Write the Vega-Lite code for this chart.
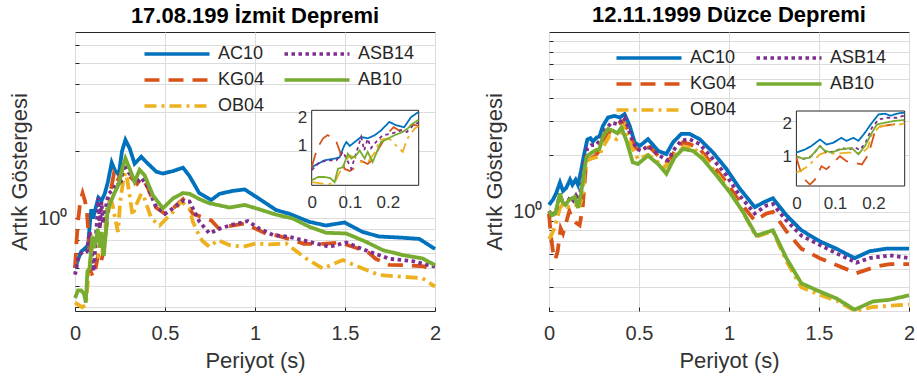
{
"$schema": "https://vega.github.io/schema/vega-lite/v6.json",
"padding": {"left": 8, "top": 3, "right": 5, "bottom": 5},
"datasets": {"d": [
{"p":"L","s":"AC10","t":0,"v":0.6},{"p":"L","s":"AC10","t":0.017,"v":0.655},{"p":"L","s":"AC10","t":0.034,"v":0.71},{"p":"L","s":"AC10","t":0.06,"v":0.74},{"p":"L","s":"AC10","t":0.073,"v":0.76},{"p":"L","s":"AC10","t":0.085,"v":1.0},{"p":"L","s":"AC10","t":0.091,"v":1.1},{"p":"L","s":"AC10","t":0.1,"v":1.0},{"p":"L","s":"AC10","t":0.113,"v":1.1},{"p":"L","s":"AC10","t":0.13,"v":1.24},{"p":"L","s":"AC10","t":0.147,"v":1.2},{"p":"L","s":"AC10","t":0.165,"v":1.29},{"p":"L","s":"AC10","t":0.182,"v":1.45},{"p":"L","s":"AC10","t":0.204,"v":1.78},{"p":"L","s":"AC10","t":0.222,"v":1.64},{"p":"L","s":"AC10","t":0.243,"v":1.57},{"p":"L","s":"AC10","t":0.261,"v":2.0},{"p":"L","s":"AC10","t":0.28,"v":2.25},{"p":"L","s":"AC10","t":0.304,"v":2.06},{"p":"L","s":"AC10","t":0.331,"v":1.76},{"p":"L","s":"AC10","t":0.368,"v":1.89},{"p":"L","s":"AC10","t":0.396,"v":1.79},{"p":"L","s":"AC10","t":0.452,"v":1.62},{"p":"L","s":"AC10","t":0.488,"v":1.59},{"p":"L","s":"AC10","t":0.544,"v":1.63},{"p":"L","s":"AC10","t":0.6,"v":1.69},{"p":"L","s":"AC10","t":0.636,"v":1.55},{"p":"L","s":"AC10","t":0.69,"v":1.3},{"p":"L","s":"AC10","t":0.757,"v":1.21},{"p":"L","s":"AC10","t":0.803,"v":1.29},{"p":"L","s":"AC10","t":0.877,"v":1.33},{"p":"L","s":"AC10","t":0.942,"v":1.35},{"p":"L","s":"AC10","t":1.007,"v":1.25},{"p":"L","s":"AC10","t":1.118,"v":1.09},{"p":"L","s":"AC10","t":1.191,"v":1.05},{"p":"L","s":"AC10","t":1.302,"v":0.966},{"p":"L","s":"AC10","t":1.395,"v":0.93},{"p":"L","s":"AC10","t":1.497,"v":0.96},{"p":"L","s":"AC10","t":1.598,"v":0.87},{"p":"L","s":"AC10","t":1.691,"v":0.83},{"p":"L","s":"AC10","t":1.82,"v":0.82},{"p":"L","s":"AC10","t":1.913,"v":0.81},{"p":"L","s":"AC10","t":2.0,"v":0.73},
{"p":"L","s":"KG04","t":0,"v":0.6},{"p":"L","s":"KG04","t":0.009,"v":0.8},{"p":"L","s":"KG04","t":0.017,"v":0.98},{"p":"L","s":"KG04","t":0.03,"v":1.2},{"p":"L","s":"KG04","t":0.042,"v":1.3},{"p":"L","s":"KG04","t":0.055,"v":1.2},{"p":"L","s":"KG04","t":0.065,"v":1.1},{"p":"L","s":"KG04","t":0.073,"v":0.9},{"p":"L","s":"KG04","t":0.08,"v":0.74},{"p":"L","s":"KG04","t":0.086,"v":0.58},{"p":"L","s":"KG04","t":0.1,"v":0.55},{"p":"L","s":"KG04","t":0.115,"v":0.6},{"p":"L","s":"KG04","t":0.13,"v":0.7},{"p":"L","s":"KG04","t":0.147,"v":0.65},{"p":"L","s":"KG04","t":0.16,"v":0.72},{"p":"L","s":"KG04","t":0.18,"v":1.0},{"p":"L","s":"KG04","t":0.2,"v":1.35},{"p":"L","s":"KG04","t":0.215,"v":1.57},{"p":"L","s":"KG04","t":0.23,"v":1.45},{"p":"L","s":"KG04","t":0.25,"v":1.55},{"p":"L","s":"KG04","t":0.265,"v":1.67},{"p":"L","s":"KG04","t":0.28,"v":1.62},{"p":"L","s":"KG04","t":0.32,"v":1.5},{"p":"L","s":"KG04","t":0.345,"v":1.43},{"p":"L","s":"KG04","t":0.37,"v":1.52},{"p":"L","s":"KG04","t":0.4,"v":1.4},{"p":"L","s":"KG04","t":0.45,"v":1.12},{"p":"L","s":"KG04","t":0.5,"v":1.05},{"p":"L","s":"KG04","t":0.55,"v":1.12},{"p":"L","s":"KG04","t":0.6,"v":1.22},{"p":"L","s":"KG04","t":0.655,"v":1.05},{"p":"L","s":"KG04","t":0.757,"v":0.98},{"p":"L","s":"KG04","t":0.8,"v":0.9},{"p":"L","s":"KG04","t":0.84,"v":0.92},{"p":"L","s":"KG04","t":0.94,"v":0.95},{"p":"L","s":"KG04","t":1.06,"v":0.857},{"p":"L","s":"KG04","t":1.12,"v":0.84},{"p":"L","s":"KG04","t":1.21,"v":0.8},{"p":"L","s":"KG04","t":1.27,"v":0.77},{"p":"L","s":"KG04","t":1.38,"v":0.77},{"p":"L","s":"KG04","t":1.47,"v":0.78},{"p":"L","s":"KG04","t":1.56,"v":0.74},{"p":"L","s":"KG04","t":1.635,"v":0.7},{"p":"L","s":"KG04","t":1.67,"v":0.66},{"p":"L","s":"KG04","t":1.746,"v":0.62},{"p":"L","s":"KG04","t":1.839,"v":0.618},{"p":"L","s":"KG04","t":1.94,"v":0.61},{"p":"L","s":"KG04","t":2.0,"v":0.58},
{"p":"L","s":"OB04","t":0,"v":0.42},{"p":"L","s":"OB04","t":0.02,"v":0.41},{"p":"L","s":"OB04","t":0.04,"v":0.4},{"p":"L","s":"OB04","t":0.06,"v":0.41},{"p":"L","s":"OB04","t":0.07,"v":0.5},{"p":"L","s":"OB04","t":0.08,"v":0.6},{"p":"L","s":"OB04","t":0.09,"v":0.7},{"p":"L","s":"OB04","t":0.1,"v":0.8},{"p":"L","s":"OB04","t":0.115,"v":0.75},{"p":"L","s":"OB04","t":0.13,"v":0.68},{"p":"L","s":"OB04","t":0.15,"v":0.7},{"p":"L","s":"OB04","t":0.165,"v":0.85},{"p":"L","s":"OB04","t":0.18,"v":1.16},{"p":"L","s":"OB04","t":0.2,"v":1.2},{"p":"L","s":"OB04","t":0.209,"v":1.15},{"p":"L","s":"OB04","t":0.225,"v":0.98},{"p":"L","s":"OB04","t":0.239,"v":0.87},{"p":"L","s":"OB04","t":0.251,"v":1.19},{"p":"L","s":"OB04","t":0.27,"v":1.51},{"p":"L","s":"OB04","t":0.28,"v":1.6},{"p":"L","s":"OB04","t":0.29,"v":1.5},{"p":"L","s":"OB04","t":0.32,"v":1.03},{"p":"L","s":"OB04","t":0.34,"v":1.15},{"p":"L","s":"OB04","t":0.368,"v":1.29},{"p":"L","s":"OB04","t":0.38,"v":1.27},{"p":"L","s":"OB04","t":0.424,"v":1.0},{"p":"L","s":"OB04","t":0.47,"v":0.93},{"p":"L","s":"OB04","t":0.544,"v":1.07},{"p":"L","s":"OB04","t":0.59,"v":1.19},{"p":"L","s":"OB04","t":0.636,"v":1.11},{"p":"L","s":"OB04","t":0.655,"v":0.966},{"p":"L","s":"OB04","t":0.692,"v":0.83},{"p":"L","s":"OB04","t":0.71,"v":0.79},{"p":"L","s":"OB04","t":0.747,"v":0.747},{"p":"L","s":"OB04","t":0.794,"v":0.8},{"p":"L","s":"OB04","t":0.858,"v":0.76},{"p":"L","s":"OB04","t":0.932,"v":0.747},{"p":"L","s":"OB04","t":1.007,"v":0.773},{"p":"L","s":"OB04","t":1.08,"v":0.765},{"p":"L","s":"OB04","t":1.173,"v":0.773},{"p":"L","s":"OB04","t":1.284,"v":0.662},{"p":"L","s":"OB04","t":1.376,"v":0.597},{"p":"L","s":"OB04","t":1.487,"v":0.651},{"p":"L","s":"OB04","t":1.598,"v":0.597},{"p":"L","s":"OB04","t":1.691,"v":0.558},{"p":"L","s":"OB04","t":1.82,"v":0.548},{"p":"L","s":"OB04","t":1.93,"v":0.54},{"p":"L","s":"OB04","t":2.0,"v":0.495},
{"p":"L","s":"ASB14","t":0,"v":0.56},{"p":"L","s":"ASB14","t":0.021,"v":0.68},{"p":"L","s":"ASB14","t":0.043,"v":0.71},{"p":"L","s":"ASB14","t":0.065,"v":0.71},{"p":"L","s":"ASB14","t":0.082,"v":0.87},{"p":"L","s":"ASB14","t":0.091,"v":0.74},{"p":"L","s":"ASB14","t":0.104,"v":0.58},{"p":"L","s":"ASB14","t":0.115,"v":0.8},{"p":"L","s":"ASB14","t":0.13,"v":1.24},{"p":"L","s":"ASB14","t":0.138,"v":0.9},{"p":"L","s":"ASB14","t":0.147,"v":1.19},{"p":"L","s":"ASB14","t":0.156,"v":0.95},{"p":"L","s":"ASB14","t":0.165,"v":1.06},{"p":"L","s":"ASB14","t":0.186,"v":1.29},{"p":"L","s":"ASB14","t":0.209,"v":1.34},{"p":"L","s":"ASB14","t":0.235,"v":1.45},{"p":"L","s":"ASB14","t":0.25,"v":1.4},{"p":"L","s":"ASB14","t":0.265,"v":1.62},{"p":"L","s":"ASB14","t":0.28,"v":1.75},{"p":"L","s":"ASB14","t":0.3,"v":1.6},{"p":"L","s":"ASB14","t":0.34,"v":1.45},{"p":"L","s":"ASB14","t":0.37,"v":1.52},{"p":"L","s":"ASB14","t":0.4,"v":1.4},{"p":"L","s":"ASB14","t":0.45,"v":1.13},{"p":"L","s":"ASB14","t":0.5,"v":1.05},{"p":"L","s":"ASB14","t":0.55,"v":1.12},{"p":"L","s":"ASB14","t":0.6,"v":1.2},{"p":"L","s":"ASB14","t":0.636,"v":1.19},{"p":"L","s":"ASB14","t":0.692,"v":0.966},{"p":"L","s":"ASB14","t":0.747,"v":0.857},{"p":"L","s":"ASB14","t":0.803,"v":0.9},{"p":"L","s":"ASB14","t":0.877,"v":0.94},{"p":"L","s":"ASB14","t":0.96,"v":0.973},{"p":"L","s":"ASB14","t":1.025,"v":0.9},{"p":"L","s":"ASB14","t":1.1,"v":0.843},{"p":"L","s":"ASB14","t":1.19,"v":0.828},{"p":"L","s":"ASB14","t":1.302,"v":0.786},{"p":"L","s":"ASB14","t":1.413,"v":0.747},{"p":"L","s":"ASB14","t":1.506,"v":0.78},{"p":"L","s":"ASB14","t":1.635,"v":0.71},{"p":"L","s":"ASB14","t":1.746,"v":0.66},{"p":"L","s":"ASB14","t":1.876,"v":0.644},{"p":"L","s":"ASB14","t":2.0,"v":0.608},
{"p":"L","s":"AB10","t":0,"v":0.44},{"p":"L","s":"AB10","t":0.017,"v":0.476},{"p":"L","s":"AB10","t":0.034,"v":0.476},{"p":"L","s":"AB10","t":0.05,"v":0.46},{"p":"L","s":"AB10","t":0.06,"v":0.42},{"p":"L","s":"AB10","t":0.069,"v":0.58},{"p":"L","s":"AB10","t":0.082,"v":0.6},{"p":"L","s":"AB10","t":0.095,"v":0.83},{"p":"L","s":"AB10","t":0.104,"v":0.74},{"p":"L","s":"AB10","t":0.117,"v":0.8},{"p":"L","s":"AB10","t":0.126,"v":0.9},{"p":"L","s":"AB10","t":0.139,"v":0.74},{"p":"L","s":"AB10","t":0.147,"v":0.87},{"p":"L","s":"AB10","t":0.16,"v":0.68},{"p":"L","s":"AB10","t":0.182,"v":1.1},{"p":"L","s":"AB10","t":0.2,"v":1.19},{"p":"L","s":"AB10","t":0.217,"v":1.29},{"p":"L","s":"AB10","t":0.239,"v":1.4},{"p":"L","s":"AB10","t":0.252,"v":1.52},{"p":"L","s":"AB10","t":0.265,"v":1.7},{"p":"L","s":"AB10","t":0.28,"v":1.86},{"p":"L","s":"AB10","t":0.304,"v":1.67},{"p":"L","s":"AB10","t":0.331,"v":1.46},{"p":"L","s":"AB10","t":0.359,"v":1.65},{"p":"L","s":"AB10","t":0.387,"v":1.56},{"p":"L","s":"AB10","t":0.433,"v":1.27},{"p":"L","s":"AB10","t":0.488,"v":1.11},{"p":"L","s":"AB10","t":0.544,"v":1.23},{"p":"L","s":"AB10","t":0.6,"v":1.3},{"p":"L","s":"AB10","t":0.636,"v":1.29},{"p":"L","s":"AB10","t":0.692,"v":1.22},{"p":"L","s":"AB10","t":0.747,"v":1.17},{"p":"L","s":"AB10","t":0.858,"v":1.12},{"p":"L","s":"AB10","t":0.942,"v":1.15},{"p":"L","s":"AB10","t":1.007,"v":1.11},{"p":"L","s":"AB10","t":1.118,"v":1.04},{"p":"L","s":"AB10","t":1.21,"v":1.0},{"p":"L","s":"AB10","t":1.302,"v":0.918},{"p":"L","s":"AB10","t":1.395,"v":0.863},{"p":"L","s":"AB10","t":1.506,"v":0.857},{"p":"L","s":"AB10","t":1.617,"v":0.786},{"p":"L","s":"AB10","t":1.709,"v":0.722},{"p":"L","s":"AB10","t":1.82,"v":0.686},{"p":"L","s":"AB10","t":1.931,"v":0.662},{"p":"L","s":"AB10","t":2.0,"v":0.618},
{"p":"R","s":"AC10","t":0,"v":1.09},{"p":"R","s":"AC10","t":0.022,"v":1.16},{"p":"R","s":"AC10","t":0.039,"v":1.25},{"p":"R","s":"AC10","t":0.061,"v":1.43},{"p":"R","s":"AC10","t":0.078,"v":1.29},{"p":"R","s":"AC10","t":0.096,"v":1.34},{"p":"R","s":"AC10","t":0.117,"v":1.48},{"p":"R","s":"AC10","t":0.13,"v":1.39},{"p":"R","s":"AC10","t":0.148,"v":1.48},{"p":"R","s":"AC10","t":0.161,"v":1.39},{"p":"R","s":"AC10","t":0.178,"v":1.65},{"p":"R","s":"AC10","t":0.196,"v":2.03},{"p":"R","s":"AC10","t":0.213,"v":2.41},{"p":"R","s":"AC10","t":0.23,"v":2.45},{"p":"R","s":"AC10","t":0.244,"v":2.35},{"p":"R","s":"AC10","t":0.265,"v":2.47},{"p":"R","s":"AC10","t":0.28,"v":2.5},{"p":"R","s":"AC10","t":0.3,"v":2.85},{"p":"R","s":"AC10","t":0.328,"v":3.15},{"p":"R","s":"AC10","t":0.365,"v":3.21},{"p":"R","s":"AC10","t":0.393,"v":3.15},{"p":"R","s":"AC10","t":0.42,"v":3.28},{"p":"R","s":"AC10","t":0.448,"v":2.85},{"p":"R","s":"AC10","t":0.476,"v":2.33},{"p":"R","s":"AC10","t":0.504,"v":2.23},{"p":"R","s":"AC10","t":0.55,"v":2.42},{"p":"R","s":"AC10","t":0.606,"v":2.1},{"p":"R","s":"AC10","t":0.652,"v":2.02},{"p":"R","s":"AC10","t":0.689,"v":2.33},{"p":"R","s":"AC10","t":0.735,"v":2.58},{"p":"R","s":"AC10","t":0.781,"v":2.58},{"p":"R","s":"AC10","t":0.837,"v":2.42},{"p":"R","s":"AC10","t":0.911,"v":2.06},{"p":"R","s":"AC10","t":0.985,"v":1.69},{"p":"R","s":"AC10","t":1.059,"v":1.33},{"p":"R","s":"AC10","t":1.143,"v":1.06},{"p":"R","s":"AC10","t":1.198,"v":1.13},{"p":"R","s":"AC10","t":1.244,"v":1.18},{"p":"R","s":"AC10","t":1.319,"v":0.96},{"p":"R","s":"AC10","t":1.402,"v":0.8},{"p":"R","s":"AC10","t":1.504,"v":0.7},{"p":"R","s":"AC10","t":1.596,"v":0.64},{"p":"R","s":"AC10","t":1.698,"v":0.57},{"p":"R","s":"AC10","t":1.781,"v":0.62},{"p":"R","s":"AC10","t":1.874,"v":0.64},{"p":"R","s":"AC10","t":2.0,"v":0.64},
{"p":"R","s":"KG04","t":0,"v":0.98},{"p":"R","s":"KG04","t":0.009,"v":0.77},{"p":"R","s":"KG04","t":0.022,"v":0.62},{"p":"R","s":"KG04","t":0.035,"v":0.56},{"p":"R","s":"KG04","t":0.048,"v":0.62},{"p":"R","s":"KG04","t":0.065,"v":0.82},{"p":"R","s":"KG04","t":0.078,"v":0.77},{"p":"R","s":"KG04","t":0.091,"v":0.85},{"p":"R","s":"KG04","t":0.113,"v":1.01},{"p":"R","s":"KG04","t":0.13,"v":0.91},{"p":"R","s":"KG04","t":0.148,"v":0.88},{"p":"R","s":"KG04","t":0.17,"v":0.85},{"p":"R","s":"KG04","t":0.187,"v":1.05},{"p":"R","s":"KG04","t":0.204,"v":1.7},{"p":"R","s":"KG04","t":0.222,"v":1.89},{"p":"R","s":"KG04","t":0.252,"v":1.96},{"p":"R","s":"KG04","t":0.28,"v":2.1},{"p":"R","s":"KG04","t":0.29,"v":2.23},{"p":"R","s":"KG04","t":0.346,"v":2.74},{"p":"R","s":"KG04","t":0.411,"v":3.02},{"p":"R","s":"KG04","t":0.44,"v":2.7},{"p":"R","s":"KG04","t":0.476,"v":2.19},{"p":"R","s":"KG04","t":0.513,"v":2.1},{"p":"R","s":"KG04","t":0.56,"v":2.2},{"p":"R","s":"KG04","t":0.624,"v":1.9},{"p":"R","s":"KG04","t":0.661,"v":1.83},{"p":"R","s":"KG04","t":0.7,"v":2.1},{"p":"R","s":"KG04","t":0.744,"v":2.33},{"p":"R","s":"KG04","t":0.781,"v":2.28},{"p":"R","s":"KG04","t":0.837,"v":2.15},{"p":"R","s":"KG04","t":0.911,"v":1.76},{"p":"R","s":"KG04","t":0.985,"v":1.44},{"p":"R","s":"KG04","t":1.059,"v":1.13},{"p":"R","s":"KG04","t":1.143,"v":0.9},{"p":"R","s":"KG04","t":1.207,"v":0.98},{"p":"R","s":"KG04","t":1.244,"v":1.0},{"p":"R","s":"KG04","t":1.319,"v":0.79},{"p":"R","s":"KG04","t":1.402,"v":0.64},{"p":"R","s":"KG04","t":1.504,"v":0.57},{"p":"R","s":"KG04","t":1.596,"v":0.525},{"p":"R","s":"KG04","t":1.707,"v":0.475},{"p":"R","s":"KG04","t":1.819,"v":0.515},{"p":"R","s":"KG04","t":1.893,"v":0.53},{"p":"R","s":"KG04","t":2.0,"v":0.53},
{"p":"R","s":"OB04","t":0,"v":0.72},{"p":"R","s":"OB04","t":0.015,"v":0.76},{"p":"R","s":"OB04","t":0.03,"v":0.82},{"p":"R","s":"OB04","t":0.043,"v":0.91},{"p":"R","s":"OB04","t":0.061,"v":1.05},{"p":"R","s":"OB04","t":0.074,"v":1.09},{"p":"R","s":"OB04","t":0.1,"v":1.06},{"p":"R","s":"OB04","t":0.135,"v":1.09},{"p":"R","s":"OB04","t":0.17,"v":1.08},{"p":"R","s":"OB04","t":0.185,"v":1.2},{"p":"R","s":"OB04","t":0.196,"v":1.59},{"p":"R","s":"OB04","t":0.217,"v":1.89},{"p":"R","s":"OB04","t":0.243,"v":1.92},{"p":"R","s":"OB04","t":0.265,"v":1.95},{"p":"R","s":"OB04","t":0.28,"v":2.0},{"p":"R","s":"OB04","t":0.3,"v":2.2},{"p":"R","s":"OB04","t":0.337,"v":2.52},{"p":"R","s":"OB04","t":0.374,"v":2.42},{"p":"R","s":"OB04","t":0.42,"v":2.85},{"p":"R","s":"OB04","t":0.457,"v":2.23},{"p":"R","s":"OB04","t":0.494,"v":1.9},{"p":"R","s":"OB04","t":0.55,"v":2.0},{"p":"R","s":"OB04","t":0.643,"v":1.72},{"p":"R","s":"OB04","t":0.7,"v":2.0},{"p":"R","s":"OB04","t":0.75,"v":2.2},{"p":"R","s":"OB04","t":0.8,"v":2.18},{"p":"R","s":"OB04","t":0.85,"v":1.98},{"p":"R","s":"OB04","t":0.93,"v":1.6},{"p":"R","s":"OB04","t":1.0,"v":1.3},{"p":"R","s":"OB04","t":1.078,"v":1.0},{"p":"R","s":"OB04","t":1.15,"v":0.74},{"p":"R","s":"OB04","t":1.244,"v":0.79},{"p":"R","s":"OB04","t":1.319,"v":0.55},{"p":"R","s":"OB04","t":1.402,"v":0.4},{"p":"R","s":"OB04","t":1.504,"v":0.365},{"p":"R","s":"OB04","t":1.6,"v":0.34},{"p":"R","s":"OB04","t":1.7,"v":0.3},{"p":"R","s":"OB04","t":1.8,"v":0.315},{"p":"R","s":"OB04","t":1.9,"v":0.32},{"p":"R","s":"OB04","t":2.0,"v":0.325},
{"p":"R","s":"ASB14","t":0,"v":1.01},{"p":"R","s":"ASB14","t":0.017,"v":0.95},{"p":"R","s":"ASB14","t":0.039,"v":1.01},{"p":"R","s":"ASB14","t":0.061,"v":1.25},{"p":"R","s":"ASB14","t":0.078,"v":1.09},{"p":"R","s":"ASB14","t":0.1,"v":1.12},{"p":"R","s":"ASB14","t":0.12,"v":1.2},{"p":"R","s":"ASB14","t":0.135,"v":1.15},{"p":"R","s":"ASB14","t":0.15,"v":1.22},{"p":"R","s":"ASB14","t":0.165,"v":1.15},{"p":"R","s":"ASB14","t":0.18,"v":1.35},{"p":"R","s":"ASB14","t":0.196,"v":1.83},{"p":"R","s":"ASB14","t":0.213,"v":2.17},{"p":"R","s":"ASB14","t":0.235,"v":2.25},{"p":"R","s":"ASB14","t":0.261,"v":2.25},{"p":"R","s":"ASB14","t":0.28,"v":2.36},{"p":"R","s":"ASB14","t":0.31,"v":2.68},{"p":"R","s":"ASB14","t":0.346,"v":2.96},{"p":"R","s":"ASB14","t":0.383,"v":2.9},{"p":"R","s":"ASB14","t":0.42,"v":3.15},{"p":"R","s":"ASB14","t":0.448,"v":2.63},{"p":"R","s":"ASB14","t":0.485,"v":2.15},{"p":"R","s":"ASB14","t":0.513,"v":2.1},{"p":"R","s":"ASB14","t":0.55,"v":2.23},{"p":"R","s":"ASB14","t":0.615,"v":1.98},{"p":"R","s":"ASB14","t":0.661,"v":1.87},{"p":"R","s":"ASB14","t":0.698,"v":2.15},{"p":"R","s":"ASB14","t":0.735,"v":2.38},{"p":"R","s":"ASB14","t":0.781,"v":2.42},{"p":"R","s":"ASB14","t":0.837,"v":2.28},{"p":"R","s":"ASB14","t":0.911,"v":1.9},{"p":"R","s":"ASB14","t":0.985,"v":1.56},{"p":"R","s":"ASB14","t":1.059,"v":1.22},{"p":"R","s":"ASB14","t":1.143,"v":0.98},{"p":"R","s":"ASB14","t":1.207,"v":1.08},{"p":"R","s":"ASB14","t":1.244,"v":1.1},{"p":"R","s":"ASB14","t":1.319,"v":0.9},{"p":"R","s":"ASB14","t":1.402,"v":0.75},{"p":"R","s":"ASB14","t":1.504,"v":0.67},{"p":"R","s":"ASB14","t":1.596,"v":0.605},{"p":"R","s":"ASB14","t":1.707,"v":0.54},{"p":"R","s":"ASB14","t":1.781,"v":0.57},{"p":"R","s":"ASB14","t":1.893,"v":0.59},{"p":"R","s":"ASB14","t":2.0,"v":0.57},
{"p":"R","s":"AB10","t":0,"v":1.01},{"p":"R","s":"AB10","t":0.017,"v":0.96},{"p":"R","s":"AB10","t":0.035,"v":0.98},{"p":"R","s":"AB10","t":0.061,"v":1.25},{"p":"R","s":"AB10","t":0.074,"v":1.13},{"p":"R","s":"AB10","t":0.091,"v":1.09},{"p":"R","s":"AB10","t":0.113,"v":1.16},{"p":"R","s":"AB10","t":0.143,"v":1.2},{"p":"R","s":"AB10","t":0.161,"v":1.05},{"p":"R","s":"AB10","t":0.178,"v":1.25},{"p":"R","s":"AB10","t":0.196,"v":1.65},{"p":"R","s":"AB10","t":0.209,"v":1.96},{"p":"R","s":"AB10","t":0.23,"v":2.03},{"p":"R","s":"AB10","t":0.252,"v":2.1},{"p":"R","s":"AB10","t":0.28,"v":2.15},{"p":"R","s":"AB10","t":0.3,"v":2.52},{"p":"R","s":"AB10","t":0.328,"v":2.74},{"p":"R","s":"AB10","t":0.356,"v":2.68},{"p":"R","s":"AB10","t":0.38,"v":2.6},{"p":"R","s":"AB10","t":0.402,"v":2.79},{"p":"R","s":"AB10","t":0.43,"v":2.38},{"p":"R","s":"AB10","t":0.465,"v":1.83},{"p":"R","s":"AB10","t":0.494,"v":1.79},{"p":"R","s":"AB10","t":0.55,"v":1.98},{"p":"R","s":"AB10","t":0.606,"v":1.79},{"p":"R","s":"AB10","t":0.652,"v":1.59},{"p":"R","s":"AB10","t":0.698,"v":1.94},{"p":"R","s":"AB10","t":0.744,"v":2.15},{"p":"R","s":"AB10","t":0.8,"v":2.1},{"p":"R","s":"AB10","t":0.855,"v":1.9},{"p":"R","s":"AB10","t":0.93,"v":1.56},{"p":"R","s":"AB10","t":1.004,"v":1.27},{"p":"R","s":"AB10","t":1.078,"v":1.0},{"p":"R","s":"AB10","t":1.152,"v":0.75},{"p":"R","s":"AB10","t":1.244,"v":0.8},{"p":"R","s":"AB10","t":1.319,"v":0.57},{"p":"R","s":"AB10","t":1.402,"v":0.42},{"p":"R","s":"AB10","t":1.504,"v":0.38},{"p":"R","s":"AB10","t":1.596,"v":0.35},{"p":"R","s":"AB10","t":1.698,"v":0.305},{"p":"R","s":"AB10","t":1.8,"v":0.337},{"p":"R","s":"AB10","t":1.893,"v":0.344},{"p":"R","s":"AB10","t":2.0,"v":0.363}
]},
"config": {
  "font": "Liberation Sans",
  "view": {"stroke": "#262626", "strokeWidth": 1},
  "axis": {"labelFont": "Liberation Sans", "titleFont": "Liberation Sans", "labelColor": "#333333", "titleColor": "#333333", "gridColor": "#dcdcdc", "gridWidth": 1, "domain": false, "ticks": true, "tickSize": -4, "tickColor": "#262626", "labelFontSize": 20, "titleFontSize": 22, "titleFontWeight": "normal", "labelFlush": false, "labelOverlap": false},
  "legend": {"labelFont": "Liberation Sans", "labelFontSize": 18, "labelColor": "#262626", "symbolType": "M-3,0H3", "symbolSize": 470, "symbolStrokeWidth": 3.5, "symbolOffset": 20, "labelOffset": 28, "columnPadding": 12, "rowPadding": 4, "columns": 2, "padding": 0},
  "title": {"font": "Liberation Sans", "fontSize": 22, "fontWeight": "bold", "color": "#000000"}
},
"spacing": 114,
"bounds": "flush",
"resolve": {"scale": {"color": "independent", "strokeDash": "independent"}, "legend": {"color": "independent", "strokeDash": "independent"}},
"hconcat": [
{
  "width": 360, "height": 279,
  "title": {"text": "17.08.199 İzmit Depremi", "frame": "group", "anchor": "middle", "offset": 4},
  "data": {"name": "d"},
  "transform": [{"filter": "datum.p == 'L'"}],
  "resolve": {"scale": {"x": "independent", "y": "independent"}, "axis": {"x": "independent", "y": "independent"}},
  "layer": [
    {
      "mark": {"type": "line", "strokeWidth": 3.8},
      "encoding": {
        "x": {"field": "t", "type": "quantitative", "scale": {"domain": [0, 2], "nice": false, "zero": false}, "axis": {"values": [0, 0.5, 1, 1.5, 2], "format": "~g", "grid": true, "title": "Periyot (s)", "labelPadding": 16, "titlePadding": 7, "zindex": 0}},
        "y": {"field": "v", "type": "quantitative", "scale": {"type": "log", "domain": [0.385, 6.85], "nice": false, "zero": false}, "axis": {"values": [0.4, 0.5, 0.6, 0.7, 0.8, 0.9, 1, 2, 3, 4, 5, 6], "labelExpr": "datum.value == 1 ? '10⁰' : ''", "grid": true, "title": "Artık Göstergesi", "labelPadding": 12, "titlePadding": 6, "zindex": 0}},
        "color": {"field": "s", "type": "nominal", "scale": {"domain": ["AC10", "KG04", "OB04", "ASB14", "AB10"], "range": ["#0072BD", "#D95319", "#EDB120", "#7E2F8E", "#77AC30"]}, "legend": {"orient": "none", "legendX": 69, "legendY": 9, "title": null, "direction": "vertical"}},
        "strokeDash": {"field": "s", "type": "nominal", "scale": {"domain": ["AC10", "KG04", "OB04", "ASB14", "AB10"], "range": [[1, 0], [15, 9], [12, 5, 3, 5], [3.5, 3.5], [1, 0]]}, "legend": {"orient": "none", "legendX": 69, "legendY": 9, "title": null, "direction": "vertical"}}
      }
    },
    {
      "layer": [
        {
          "data": {"values": [{}]},
          "mark": {"type": "rect", "fill": "#ffffff", "stroke": "#262626", "strokeWidth": 1},
          "encoding": {
            "x": {"datum": 0, "type": "quantitative", "scale": {"domain": [0, 0.281], "range": [236.7, 343.7], "nice": false, "zero": false}, "axis": {"orient": "bottom", "offset": -125.7, "values": [0, 0.1, 0.2], "format": "~g", "grid": false, "title": null, "labelFontSize": 17, "labelPadding": 9, "ticks": false, "zindex": 2}},
            "x2": {"datum": 0.281},
            "y": {"datum": 0.39, "type": "quantitative", "scale": {"type": "log", "domain": [0.39, 2.35], "range": [153.3, 78.3], "nice": false, "zero": false}, "axis": {"orient": "left", "offset": -236.7, "values": [1, 2], "format": "~g", "grid": false, "title": null, "labelFontSize": 17, "labelPadding": 5, "ticks": false, "zindex": 2}},
            "y2": {"datum": 2.35}
          }
        },
        {
          "transform": [{"filter": "datum.t <= 0.281"}],
          "mark": {"type": "line", "strokeWidth": 1.8},
          "encoding": {
            "x": {"field": "t", "type": "quantitative", "scale": {"domain": [0, 0.281], "range": [236.7, 343.7], "nice": false, "zero": false}, "axis": {"orient": "bottom", "offset": -125.7, "values": [0, 0.1, 0.2], "format": "~g", "grid": false, "title": null, "labelFontSize": 17, "labelPadding": 9, "ticks": false, "zindex": 2}},
            "y": {"field": "v", "type": "quantitative", "scale": {"type": "log", "domain": [0.39, 2.35], "range": [153.3, 78.3], "nice": false, "zero": false}, "axis": {"orient": "left", "offset": -236.7, "values": [1, 2], "format": "~g", "grid": false, "title": null, "labelFontSize": 17, "labelPadding": 5, "ticks": false, "zindex": 2}},
            "color": {"field": "s", "type": "nominal"},
            "strokeDash": {"field": "s", "type": "nominal"}
          }
        }
      ]
    }
  ]
},
{
  "width": 360, "height": 279,
  "title": {"text": "12.11.1999 Düzce Depremi", "frame": "group", "anchor": "middle", "offset": 4},
  "data": {"name": "d"},
  "transform": [{"filter": "datum.p == 'R'"}],
  "resolve": {"scale": {"x": "independent", "y": "independent"}, "axis": {"x": "independent", "y": "independent"}},
  "layer": [
    {
      "mark": {"type": "line", "strokeWidth": 3.8},
      "encoding": {
        "x": {"field": "t", "type": "quantitative", "scale": {"domain": [0, 2], "nice": false, "zero": false}, "axis": {"values": [0, 0.5, 1, 1.5, 2], "format": "~g", "grid": true, "title": "Periyot (s)", "labelPadding": 16, "titlePadding": 7, "zindex": 0}},
        "y": {"field": "v", "type": "quantitative", "scale": {"type": "log", "domain": [0.3, 8.9], "nice": false, "zero": false}, "axis": {"values": [0.3, 0.4, 0.5, 0.6, 0.7, 0.8, 0.9, 1, 2, 3, 4, 5, 6, 7, 8], "labelExpr": "datum.value == 1 ? '10⁰' : ''", "grid": true, "title": "Artık Göstergesi", "labelPadding": 11, "titlePadding": 6, "zindex": 0}},
        "color": {"field": "s", "type": "nominal", "scale": {"domain": ["AC10", "KG04", "OB04", "ASB14", "AB10"], "range": ["#0072BD", "#D95319", "#EDB120", "#7E2F8E", "#77AC30"]}, "legend": {"orient": "none", "legendX": 67, "legendY": 13, "title": null, "direction": "vertical"}},
        "strokeDash": {"field": "s", "type": "nominal", "scale": {"domain": ["AC10", "KG04", "OB04", "ASB14", "AB10"], "range": [[1, 0], [15, 9], [12, 5, 3, 5], [3.5, 3.5], [1, 0]]}, "legend": {"orient": "none", "legendX": 67, "legendY": 13, "title": null, "direction": "vertical"}}
      }
    },
    {
      "layer": [
        {
          "data": {"values": [{}]},
          "mark": {"type": "rect", "fill": "#ffffff", "stroke": "#262626", "strokeWidth": 1},
          "encoding": {
            "x": {"datum": 0, "type": "quantitative", "scale": {"domain": [0, 0.281], "range": [247.4, 355.7], "nice": false, "zero": false}, "axis": {"orient": "bottom", "offset": -125, "values": [0, 0.1, 0.2], "format": "~g", "grid": false, "title": null, "labelFontSize": 17, "labelPadding": 9, "ticks": false, "zindex": 2}},
            "x2": {"datum": 0.281},
            "y": {"datum": 0.543, "type": "quantitative", "scale": {"type": "log", "domain": [0.543, 2.59], "range": [154, 79], "nice": false, "zero": false}, "axis": {"orient": "left", "offset": -247.4, "values": [1, 2], "format": "~g", "grid": false, "title": null, "labelFontSize": 17, "labelPadding": 5, "ticks": false, "zindex": 2}},
            "y2": {"datum": 2.59}
          }
        },
        {
          "transform": [{"filter": "datum.t <= 0.281"}],
          "mark": {"type": "line", "strokeWidth": 1.8},
          "encoding": {
            "x": {"field": "t", "type": "quantitative", "scale": {"domain": [0, 0.281], "range": [247.4, 355.7], "nice": false, "zero": false}, "axis": {"orient": "bottom", "offset": -125, "values": [0, 0.1, 0.2], "format": "~g", "grid": false, "title": null, "labelFontSize": 17, "labelPadding": 9, "ticks": false, "zindex": 2}},
            "y": {"field": "v", "type": "quantitative", "scale": {"type": "log", "domain": [0.543, 2.59], "range": [154, 79], "nice": false, "zero": false}, "axis": {"orient": "left", "offset": -247.4, "values": [1, 2], "format": "~g", "grid": false, "title": null, "labelFontSize": 17, "labelPadding": 5, "ticks": false, "zindex": 2}},
            "color": {"field": "s", "type": "nominal"},
            "strokeDash": {"field": "s", "type": "nominal"}
          }
        }
      ]
    }
  ]
}
]
}
